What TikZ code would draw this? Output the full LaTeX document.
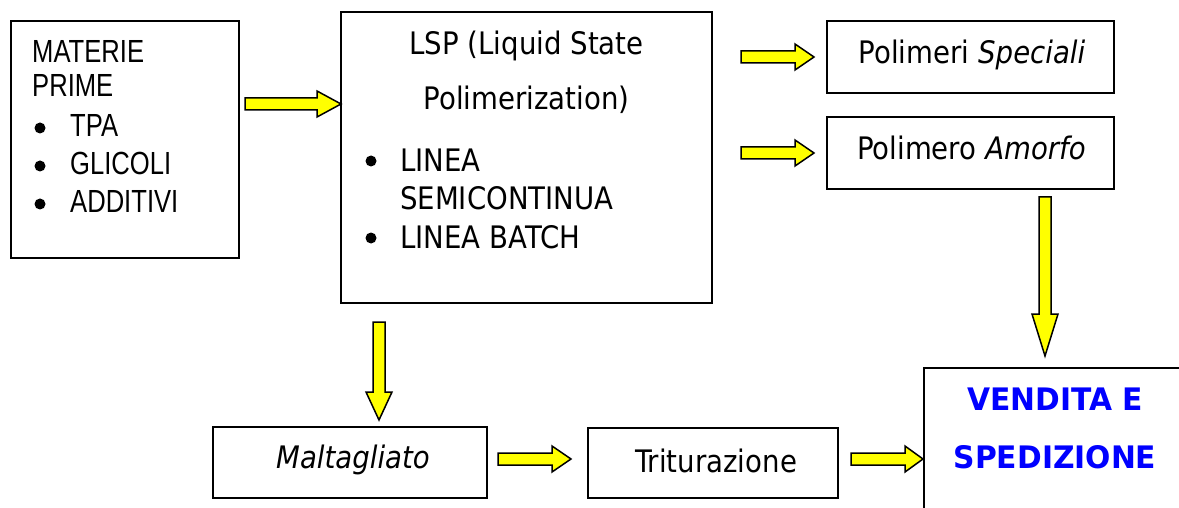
\documentclass[tikz,border=0pt]{standalone}
\usepackage{fontspec}
\setmainfont{DejaVu Sans}[FakeStretch=0.89]
\newfontfamily\narrowfont{Liberation Sans}[FakeStretch=0.80]
\newfontfamily\widebold{DejaVu Sans}[FakeStretch=0.96]
\definecolor{arrowyellow}{RGB}{255,255,0}
\definecolor{vendblue}{RGB}{0,0,255}
\tikzset{
  boxnode/.style={draw=black, line width=2pt, fill=white, inner sep=0pt},
  txt/.style={inner sep=0pt, font=\fontsize{31}{31}\selectfont},
  ntxt/.style={inner sep=0pt, font=\narrowfont\fontsize{32}{32}\selectfont},
  fatarrow/.style={draw=black, line width=1.5pt, fill=arrowyellow, line join=miter},
  bulletdot/.style={circle, fill=black, inner sep=0pt, minimum size=11pt},
}
% horizontal block arrow: x1, x2 (tip), y, head start
\newcommand\hblock[4]{\draw[fatarrow] (#1,#3-6) -- (#4,#3-6) -- (#4,#3-13) -- (#2,#3) -- (#4,#3+13) -- (#4,#3+6) -- (#1,#3+6) -- cycle;}
% vertical block arrow: x, y1, y2 (tip), head start
\newcommand\vblock[4]{\draw[fatarrow] (#1-6,#2) -- (#1-6,#4) -- (#1-13,#4) -- (#1,#3) -- (#1+13,#4) -- (#1+6,#4) -- (#1+6,#2) -- cycle;}
\begin{document}
\begin{tikzpicture}[x=1pt,y=-1pt]
\useasboundingbox (0,0) rectangle (1179,508);
\fill[white] (0,0) rectangle (1179,508);
\clip (0,0) rectangle (1179,508);

% boxes
\node[boxnode, minimum width=228pt, minimum height=237pt] (mat) at (125,139.5) {};
\node[boxnode, minimum width=371pt, minimum height=291pt] (lsp) at (526.5,157.5) {};
\node[boxnode, minimum width=287pt, minimum height=72pt] (spec) at (970.5,57) {};
\node[boxnode, minimum width=287pt, minimum height=72pt] (amor) at (970.5,153) {};
\node[boxnode, minimum width=274pt, minimum height=71pt] (malt) at (350,462.5) {};
\node[boxnode, minimum width=250pt, minimum height=70pt] (trit) at (713,463) {};
\node[boxnode, minimum width=300pt, minimum height=200pt, anchor=north west] (vend) at (923,367) {};

% MATERIE PRIME
\node[ntxt, anchor=base west] (t1) at (32,63) {MATERIE};
\node[ntxt, anchor=base west] (t2) at (32,97) {PRIME};
\node[ntxt, anchor=base west] (t3) at (70,137) {TPA};
\node[ntxt, anchor=base west] (t4) at (70,175) {GLICOLI};
\node[ntxt, anchor=base west] (t5) at (70,213) {ADDITIVI};
\node[bulletdot] (b1) at (40,128) {};
\node[bulletdot] (b2) at (40,166) {};
\node[bulletdot] (b3) at (40,204) {};

% LSP
\node[txt, anchor=base] (l1) at (526.5,55) {LSP (Liquid State};
\node[txt, anchor=base] (l2) at (526.5,110) {Polimerization)};
\node[txt, anchor=base west] (l3) at (400,172) {LINEA};
\node[txt, anchor=base west] (l4) at (400,210) {SEMICONTINUA};
\node[txt, anchor=base west] (l5) at (400,248) {LINEA BATCH};
\node[bulletdot] (b4) at (371,161) {};
\node[bulletdot] (b5) at (371,238) {};

% right boxes text
\node[txt, anchor=base] (s1) at (972,64) {Polimeri \textit{Speciali}};
\node[txt, anchor=base] (a1) at (971.5,160) {Polimero \textit{Amorfo}};
\node[txt, anchor=base] (m1) at (353,468) {\textit{Maltagliato}};
\node[txt, anchor=base] (r1) at (716,472) {Triturazione};
\node[txt, anchor=base, text=vendblue, font=\widebold\bfseries\fontsize{31}{31}\selectfont] (v1) at (1055,410) {VENDITA E};
\node[txt, anchor=base, text=vendblue, font=\widebold\bfseries\fontsize{31}{31}\selectfont] (v2) at (1055,468) {SPEDIZIONE};

% block arrows
\hblock{245}{341}{104}{317}
\hblock{741}{814}{57}{795}
\hblock{741}{814}{153}{795}
\hblock{498}{571}{459}{552}
\hblock{851}{923}{459}{905}
\vblock{379}{322}{420}{392}
\vblock{1045}{197}{356}{314}
\end{tikzpicture}
\end{document}
